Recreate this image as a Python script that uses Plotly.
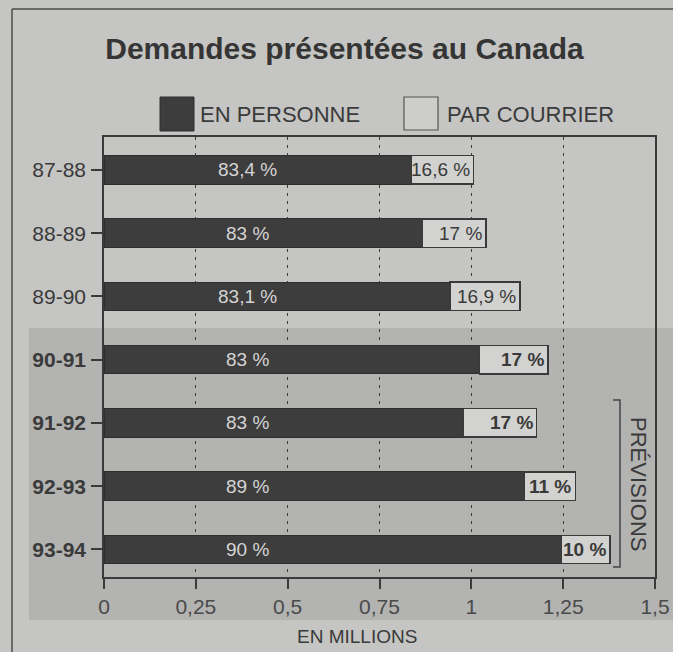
import plotly.graph_objects as go

annees = ["87-88", "88-89", "89-90", "90-91", "91-92", "92-93", "93-94"]
annees_txt = ["87-88", "88-89", "89-90", "<b>90-91</b>", "<b>91-92</b>", "<b>92-93</b>", "<b>93-94</b>"]
en_personne = [0.837, 0.867, 0.942, 1.022, 0.979, 1.144, 1.245]
par_courrier = [0.169, 0.173, 0.191, 0.187, 0.199, 0.139, 0.133]
pct_personne = ["83,4 %", "83 %", "83,1 %", "83 %", "83 %", "89 %", "90 %"]
pct_courrier = ["16,6 %", "17 %", "16,9 %", "<b>17 %</b>", "<b>17 %</b>", "<b>11 %</b>", "<b>10 %</b>"]
x_ticks = [0, 0.25, 0.5, 0.75, 1, 1.25, 1.5]
x_ticktext = ["0", "0,25", "0,5", "0,75", "1", "1,25", "1,5"]

FONT = "Liberation Sans, Arial, Helvetica, sans-serif"
TXT = "#3a3a3a"
BG = "#c5c5c3"
SHADE = "#b3b3b1"

W, H = 673, 652
L, R, T, B = 104, 18, 137, 75
pw, ph = W - L - R, H - T - B


def px(x):
    return (x - L) / pw


def py(y):
    return (H - B - y) / ph


fig = go.Figure()
fig.add_trace(go.Bar(
    y=annees, x=en_personne, orientation="h", name="EN PERSONNE",
    marker=dict(color="#3d3d3d", line=dict(color="#2e2e2e", width=1)),
    width=0.45, showlegend=False, hoverinfo="skip",
))
fig.add_trace(go.Bar(
    y=annees, x=par_courrier, orientation="h", name="PAR COURRIER",
    marker=dict(color="#d2d2d0", line=dict(color="#3a3a3a", width=1.5)),
    width=0.45, showlegend=False, hoverinfo="skip",
))

annotations = []
for a, p, c, tp, tc in zip(annees, en_personne, par_courrier, pct_personne, pct_courrier):
    annotations.append(dict(x=0.39, y=a, xref="x", yref="y", text=tp, showarrow=False,
                            font=dict(family=FONT, size=19, color="#d4d4d4")))
    annotations.append(dict(x=p + c, y=a, xref="x", yref="y", text=tc, showarrow=False,
                            xanchor="right", xshift=-2,
                            font=dict(family=FONT, size=19, color=TXT)))

annotations.append(dict(x=px(198), y=py(114), xref="paper", yref="paper", text="EN PERSONNE",
                        showarrow=False, xanchor="left", yanchor="middle",
                        font=dict(family=FONT, size=22, color=TXT)))
annotations.append(dict(x=px(445), y=py(114), xref="paper", yref="paper", text="PAR COURRIER",
                        showarrow=False, xanchor="left", yanchor="middle",
                        font=dict(family=FONT, size=22, color=TXT)))
annotations.append(dict(x=px(357), y=py(636), xref="paper", yref="paper", text="EN MILLIONS",
                        showarrow=False, xanchor="center", yanchor="middle",
                        font=dict(family=FONT, size=19, color=TXT)))
annotations.append(dict(x=px(639), y=py(484), xref="paper", yref="paper", text="PRÉVISIONS",
                        showarrow=False, textangle=90, xanchor="center", yanchor="middle",
                        font=dict(family=FONT, size=22, color=TXT)))

shapes = [
    dict(type="rect", xref="paper", yref="paper", x0=px(29), x1=px(673), y0=py(620), y1=py(328),
         fillcolor=SHADE, line=dict(width=0), layer="below"),
    dict(type="line", xref="paper", yref="paper", x0=px(12), x1=px(673), y0=py(9), y1=py(9),
         line=dict(color="#4a4a4a", width=1.5)),
    dict(type="line", xref="paper", yref="paper", x0=px(12), x1=px(12), y0=py(9), y1=py(652),
         line=dict(color="#4a4a4a", width=1.5)),
    dict(type="path", xref="paper", yref="paper",
         path=f"M {px(613)},{py(400)} L {px(620)},{py(400)} L {px(620)},{py(567)} L {px(613)},{py(567)}",
         line=dict(color="#444", width=1.5)),
    dict(type="rect", xref="paper", yref="paper", x0=px(160), x1=px(194), y0=py(131), y1=py(97),
         fillcolor="#3d3d3d", line=dict(color="#2e2e2e", width=1)),
    dict(type="rect", xref="paper", yref="paper", x0=px(404), x1=px(438), y0=py(130), y1=py(97),
         fillcolor="#cdcdcb", line=dict(color="#555", width=1.2)),
]

fig.update_layout(
    width=W, height=H, autosize=False,
    margin=dict(l=L, r=R, t=T, b=B, pad=0, autoexpand=False),
    paper_bgcolor=BG, plot_bgcolor="rgba(0,0,0,0)",
    barmode="stack", bargap=0.5,
    title=dict(text="<b>Demandes présentées au Canada</b>", x=344.5 / W, xanchor="center",
               y=1 - 48 / H, yanchor="middle", font=dict(family=FONT, size=30, color="#353535")),
    xaxis=dict(range=[0, 1.5], tickvals=x_ticks, ticktext=x_ticktext, automargin=False,
               showgrid=True, gridcolor="#3a3a3a", gridwidth=1.2, griddash="3px,5px",
               showline=True, linecolor="#3a3a3a", linewidth=1.5, mirror=True,
               ticks="outside", ticklen=10, tickwidth=1.5, tickcolor="#3a3a3a",
               tickfont=dict(family=FONT, size=21, color="#4a4a4a"), zeroline=False,
               fixedrange=True),
    yaxis=dict(range=[6.435, -0.52], tickvals=annees, ticktext=annees_txt, type="category",
               automargin=False,
               showgrid=False, showline=True, linecolor="#3a3a3a", linewidth=1.5, mirror=True,
               ticks="outside", ticklen=11, tickwidth=1.5, tickcolor="#3a3a3a",
               tickfont=dict(family=FONT, size=21, color=TXT), ticklabelstandoff=1,
               fixedrange=True),
    annotations=annotations,
    shapes=shapes,
)

fig.write_html(
    "out.html",
    config={"displayModeBar": False, "responsive": False},
    post_script=(
        "document.documentElement.style.margin='0';"
        "document.documentElement.style.overflow='hidden';"
        f"document.documentElement.style.background='{BG}';"
        "document.body.style.margin='0';document.body.style.overflow='hidden';"
        f"document.body.style.background='{BG}';"
    ),
)
